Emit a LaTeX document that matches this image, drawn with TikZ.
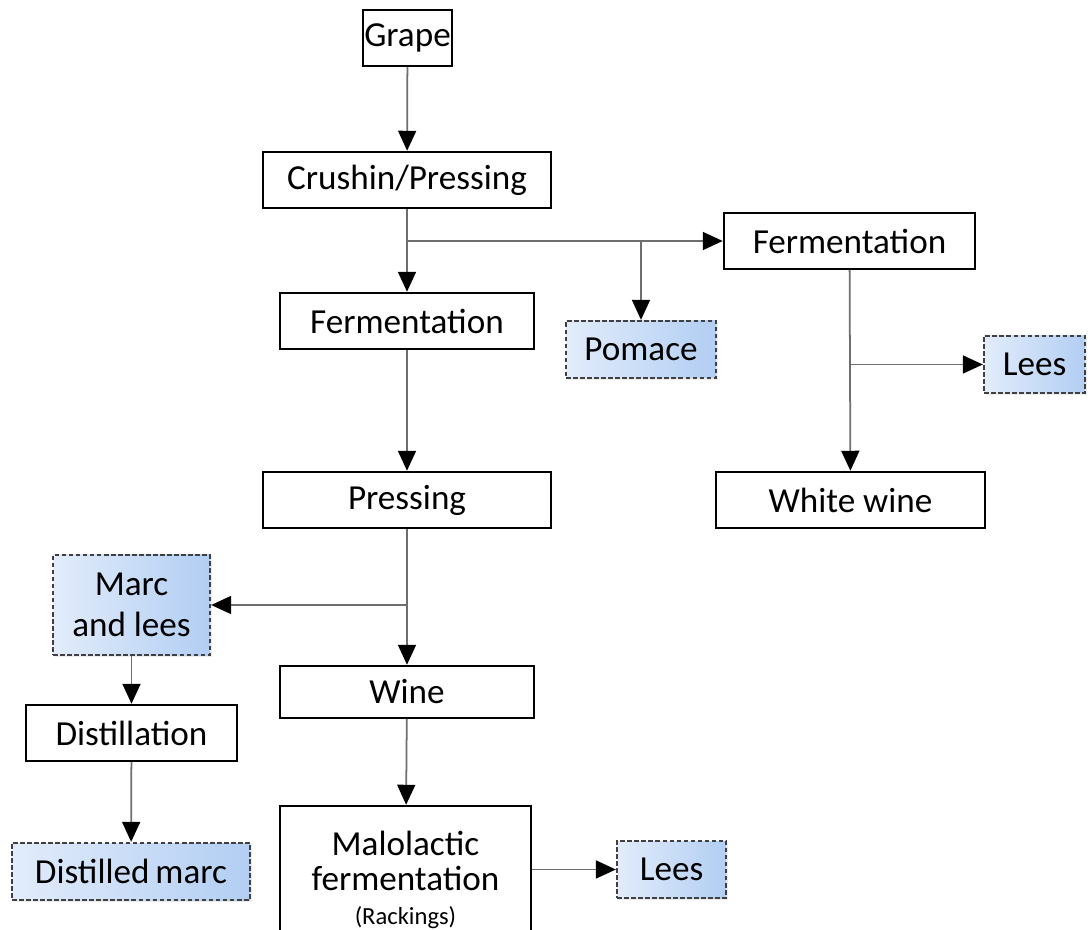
\documentclass[tikz,border=0pt]{standalone}
\usepackage{fontspec}
\setmainfont{Carlito}
\usetikzlibrary{arrows.meta,positioning,shadows}
\definecolor{wire}{RGB}{110,110,110}
\definecolor{skylt}{RGB}{226,236,251}
\definecolor{skydk}{RGB}{178,206,243}
\tikzset{
  >={Triangle[length=2mm,width=1.8mm,color=black]},
  stage/.style={draw=black,line width=0.7pt,fill=white,inner sep=0pt,
    minimum width=#1,minimum height=0.56cm,align=center,
    font=\fontsize{10}{11.5}\selectfont},
  stage/.default=2.54cm,
  residue/.style={draw=black!75,line width=0.65pt,dash pattern=on 1.3pt off 0.7pt,
    left color=skylt,right color=skydk,inner sep=0pt,
    minimum width=#1,minimum height=0.57cm,align=center,
    font=\fontsize{10}{11.5}\selectfont,
    drop shadow={opacity=0.15,shadow xshift=0.5pt,shadow yshift=-0.5pt}},
  residue/.default=1.1cm,
  flow/.style={->,draw=wire,line width=0.5pt},
}
\begin{document}
\begin{tikzpicture}
  \useasboundingbox (0,0) rectangle (10.88,-9.30);
  % main line
  \node[stage=0.89cm] (grape) at (4.075,-0.38) {Grape};
  \node[stage=2.88cm] (crush) at (4.07,-1.80) {Crushin/Pressing};
  \node[stage=2.54cm] (fermred) at (4.07,-3.21) {Fermentation};
  \node[stage=2.88cm] (press) at (4.07,-5.00) {Pressing};
  \node[stage=2.54cm,minimum height=0.52cm] (wine) at (4.07,-6.92) {Wine};
  \node[stage=2.51cm,minimum height=1.48cm,font=\fontsize{10}{10}\selectfont] (malo) at (4.055,-8.80)
    {Malolactic\\fermentation\\[-0.5pt]{\fontsize{7}{7}\selectfont(Rackings)}};
  % white wine branch
  \node[stage=2.51cm] (fermwhite) at (8.495,-2.41) {Fermentation};
  \node[stage=2.69cm] (white) at (8.505,-5.00) {White wine};
  % by-products
  \node[residue=1.50cm] (pomace) at (6.41,-3.495) {Pomace};
  \node[residue=1.01cm] (leesw) at (10.345,-3.645) {Lees};
  \node[residue=1.57cm,minimum height=1.00cm] (marc) at (1.315,-6.05) {Marc\\and lees};
  \node[stage=2.11cm] (distil) at (1.315,-7.33) {Distillation};
  \node[residue=2.38cm] (distmarc) at (1.31,-8.715) {Distilled\,marc};
  \node[residue=1.09cm] (leesr) at (6.715,-8.695) {Lees};

  \draw[flow] (grape) -- (crush);
  \draw[flow] (crush) -- (fermred);
  \draw[flow] (crush.south |- fermwhite) -- (fermwhite);
  \draw[flow] (pomace.north |- fermwhite) -- (pomace);
  \draw[flow] (fermred) -- (press);
  \draw[flow] (fermwhite) -- (white);
  \draw[flow] (fermwhite.south |- leesw) -- (leesw);
  \draw[flow] (press) -- (wine);
  \draw[flow] (press.south |- marc) -- (marc);
  \draw[flow] (marc) -- (distil);
  \draw[flow] (distil) -- (distmarc);
  \draw[flow] (wine) -- (malo);
  \draw[flow] (malo.east |- leesr) -- (leesr);
\end{tikzpicture}
\end{document}
